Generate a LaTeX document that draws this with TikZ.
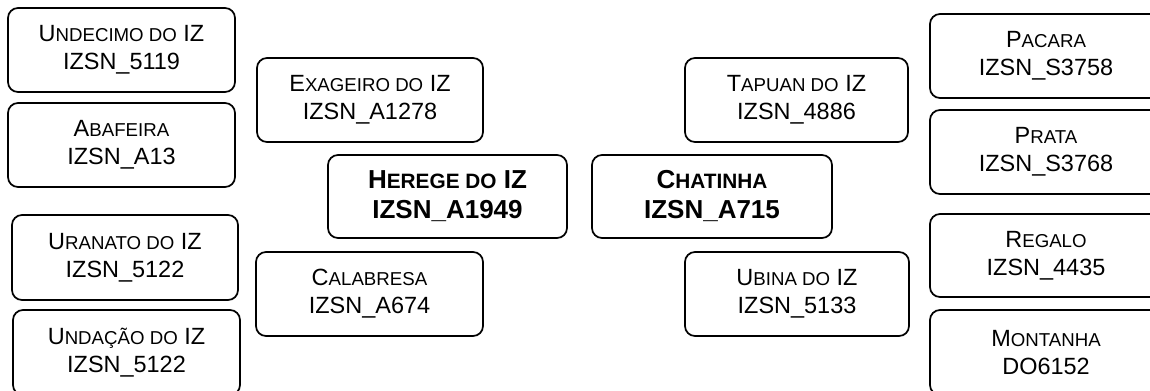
\documentclass[tikz,border=0pt]{standalone}
\usepackage{fontspec}
\setmainfont{Liberation Sans}
\newcommand\sm[1]{{\fontsize{14}{21}\selectfont #1}}
\newcommand\smb[1]{{\fontsize{15.6}{22.5}\selectfont #1}}
\newcommand\bx[7][]{\node[box,#1,minimum width={(#4-#2)*0.75pt},minimum height={(#5-#3)*0.75pt}] (#6) at ({(#2+#4)/2},{(#3+#5)/2}) {#7};}
\tikzset{
  box/.style={draw=black, line width=1.3pt, rounded corners=7.5pt, align=center, inner sep=0pt,
    font=\fontsize{17.6}{21}\selectfont},
  centerbox/.style={font=\fontsize{19.5}{22.5}\selectfont\bfseries}
}
\begin{document}
\begin{tikzpicture}[x=0.75pt,y=-0.75pt]
\useasboundingbox (0,0) rectangle (1150,390);
\clip (0,0) rectangle (1150,390);
\bx{8}{8}{235}{92}{undecimo}{U\sm{NDECIMO DO} IZ\\IZSN\_5119}
\bx{8}{103}{235}{187}{abafeira}{A\sm{BAFEIRA}\\IZSN\_A13}
\bx{12}{215}{238}{300}{uranato}{U\sm{RANATO DO} IZ\\IZSN\_5122}
\bx{13}{310}{240}{395}{undacao}{U\sm{NDAÇÃO DO} IZ\\IZSN\_5122}
\bx{257}{58}{483}{142}{exageiro}{E\sm{XAGEIRO DO} IZ\\IZSN\_A1278}
\bx[centerbox]{328}{155}{567}{238}{herege}{H\smb{EREGE DO} IZ\\IZSN\_A1949}
\bx{256}{252}{483}{336}{calabresa}{C\sm{ALABRESA}\\IZSN\_A674}
\bx{685}{58}{908}{142}{tapuan}{T\sm{APUAN DO} IZ\\IZSN\_4886}
\bx[centerbox]{592}{155}{832}{238}{chatinha}{C\smb{HATINHA}\\IZSN\_A715}
\bx{685}{252}{909}{336}{ubina}{U\sm{BINA DO} IZ\\IZSN\_5133}
\bx{930}{14}{1162}{98}{pacara}{P\sm{ACARA}\\IZSN\_S3758}
\bx{930}{110}{1162}{194}{prata}{P\sm{RATA}\\IZSN\_S3768}
\bx{930}{214}{1162}{297}{regalo}{R\sm{EGALO}\\IZSN\_4435}
\bx{930}{310}{1162}{395}{montanha}{M\sm{ONTANHA}\\DO6152}
\end{tikzpicture}
\end{document}
